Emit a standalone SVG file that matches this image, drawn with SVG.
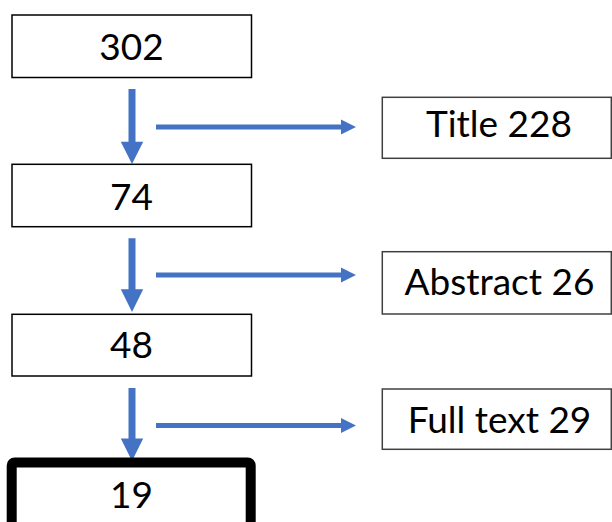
<svg xmlns="http://www.w3.org/2000/svg" width="612" height="522" viewBox="0 0 612 522">
<defs>
<style>
.box{fill:#fff;stroke:#000;stroke-width:1.5}
.sbox{fill:#fff;stroke:#404040;stroke-width:1.5}
.t{font-family:Lato,"Open Sans",sans-serif;font-size:37px;fill:#000;text-anchor:middle}
.arr{fill:#4472C4}
</style>
</defs>
<rect width="612" height="522" fill="#fff"/>
<g id="connectors">
<path class="arr" d="M128.5 89H135.5V141.7H143.2L132 164L120.8 141.7H128.5Z"/>
<path class="arr" d="M128.5 238.3H135.5V289.3H143.2L132 312L120.8 289.3H128.5Z"/>
<path class="arr" d="M128.5 388H135.5V438.5H143.2L132 461L120.8 438.5H128.5Z"/>
<path class="arr" d="M156 124.5H341V119.5L356 127L341 134.5V129.5H156Z"/>
<path class="arr" d="M156 272.5H341V267.5L356 275L341 282.5V277.5H156Z"/>
<path class="arr" d="M156 423H341V418L356 425.5L341 433V428H156Z"/>
</g>
<g id="n302"><rect class="box" x="12" y="15" width="239.5" height="62.5"/><text class="t" x="131.5" y="60">302</text></g>
<g id="n74"><rect class="box" x="12" y="164.3" width="239.5" height="62.4"/><text class="t" x="131.5" y="209.5">74</text></g>
<g id="n48"><rect class="box" x="12" y="314.3" width="239.5" height="61.7"/><text class="t" x="131.5" y="357.7">48</text></g>
<g id="n19"><rect x="11.7" y="462.5" width="239" height="70" rx="3" fill="#fff" stroke="#000" stroke-width="10" stroke-linejoin="round"/><text class="t" x="131.5" y="507.5">19</text></g>
<g id="title"><rect class="sbox" x="382.3" y="97.3" width="229" height="61"/><text class="t" x="499" y="136.7">Title 228</text></g>
<g id="abstract"><rect class="sbox" x="382.3" y="251.7" width="229" height="62.3"/><text class="t" x="499.5" y="295">Abstract 26</text></g>
<g id="fulltext"><rect class="sbox" x="382.3" y="389" width="229" height="60.3"/><text class="t" x="499.5" y="432.7">Full text 29</text></g>
</svg>
